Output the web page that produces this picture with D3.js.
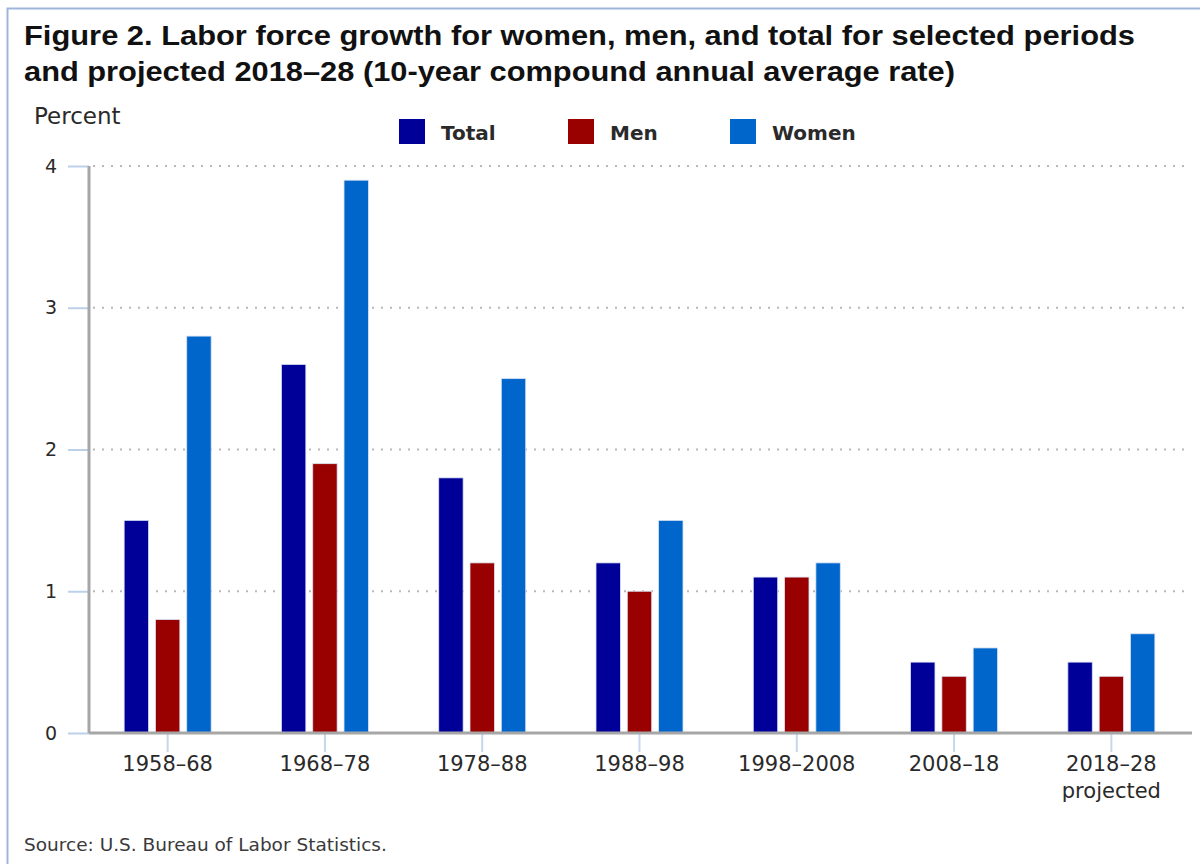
<!DOCTYPE html>
<html>
<head>
<meta charset="utf-8">
<script src="https://cdn.jsdelivr.net/npm/d3@7"></script>
<style>
  html, body { margin: 0; padding: 0; background: #fff; }
  svg { display: block; }
</style>
</head>
<body>
<svg id="chart" width="1200" height="864"></svg>
<script>
// Labor force growth, 10-year compound annual average rate (percent)
const periods = ["1958–68", "1968–78", "1978–88", "1988–98", "1998–2008", "2008–18", "2018–28"];
const periodNotes = ["", "", "", "", "", "", "projected"];
const seriesNames = ["Total", "Men", "Women"];
const seriesColors = ["#000099", "#990000", "#0066cc"];
const totalValues = [1.5, 2.6, 1.8, 1.2, 1.1, 0.5, 0.5];
const menValues = [0.8, 1.9, 1.2, 1.0, 1.1, 0.4, 0.4];
const womenValues = [2.8, 3.9, 2.5, 1.5, 1.2, 0.6, 0.7];
const yTicks = [0, 1, 2, 3, 4];

const seriesValues = [totalValues, menValues, womenValues];
const rows = periods.map((p, i) => ({
  period: p,
  values: seriesNames.map((s, j) => ({ series: s, value: seriesValues[j][i], color: seriesColors[j] }))
}));

const svg = d3.select("#chart");

// frame
svg.append("path")
  .attr("d", "M7.5,870 L7.5,8.5 L1210,8.5")
  .attr("fill", "none")
  .attr("stroke", "#9fb5dc")
  .attr("stroke-width", 2);

// title (two lines, widened to the frame)
const titleLines = [
  { text: "Figure 2. Labor force growth for women, men, and total for selected periods", y: 45, width: 1111 },
  { text: "and projected 2018–28 (10-year compound annual average rate)", y: 81, width: 931 }
];
svg.append("g").selectAll("text")
  .data(titleLines)
  .join("text")
  .attr("x", 24)
  .attr("y", d => d.y)
  .attr("font-family", "Liberation Sans, Arial, sans-serif")
  .attr("font-weight", "bold")
  .attr("font-size", 27)
  .attr("fill", "#111")
  .attr("textLength", d => d.width)
  .attr("lengthAdjust", "spacingAndGlyphs")
  .text(d => d.text);

const plot = { left: 89, right: 1190, top: 166, bottom: 733 };

const x0 = d3.scaleBand().domain(periods).range([plot.left, plot.right]).paddingInner(0).paddingOuter(0);
const x1 = d3.scaleBand().domain(seriesNames).range([-43.5, 43.5]).paddingInner(0.22);
const y = d3.scaleLinear().domain([0, 4]).range([plot.bottom, plot.top]);

const axisFont = "DejaVu Sans, Verdana, sans-serif";
const textColor = "#2a2a2a";

// dotted gridlines
svg.append("g").selectAll("line")
  .data(yTicks.filter(t => t > 0))
  .join("line")
  .attr("x1", plot.left + 4).attr("x2", 1184)
  .attr("y1", d => y(d)).attr("y2", d => y(d))
  .attr("stroke", "#b8b8b8")
  .attr("stroke-width", 2)
  .attr("stroke-dasharray", "2,7");

// y axis
const yAxis = svg.append("g")
  .attr("transform", `translate(${plot.left},0)`)
  .call(d3.axisLeft(y).tickValues(yTicks).tickFormat(d3.format("d")).tickSize(21).tickPadding(11));
yAxis.select(".domain").remove();
yAxis.selectAll(".tick line").attr("stroke", "#bcd0ea").attr("stroke-width", 2);
yAxis.selectAll(".tick text")
  .attr("font-family", axisFont).attr("font-size", 19).attr("fill", textColor);

svg.append("line")
  .attr("x1", plot.left).attr("x2", plot.left)
  .attr("y1", plot.top).attr("y2", plot.bottom)
  .attr("stroke", "#a6a6a6").attr("stroke-width", 3);

// bars
const groups = svg.append("g").selectAll("g")
  .data(rows)
  .join("g")
  .attr("transform", d => `translate(${x0(d.period) + x0.bandwidth() / 2},0)`);

groups.selectAll("rect")
  .data(d => d.values)
  .join("rect")
  .attr("x", d => x1(d.series))
  .attr("width", x1.bandwidth())
  .attr("y", d => y(d.value))
  .attr("height", d => y(0) - y(d.value))
  .attr("fill", d => d.color)
  .attr("stroke", "#d9e2f2")
  .attr("stroke-width", 0.8);

// x axis
const xAxis = svg.append("g")
  .attr("transform", `translate(0,${plot.bottom})`)
  .call(d3.axisBottom(x0).tickSize(19).tickPadding(4));
xAxis.select(".domain").remove();
xAxis.selectAll(".tick line").attr("stroke", "#c6d6ec").attr("stroke-width", 2);
xAxis.selectAll(".tick text")
  .attr("font-family", axisFont).attr("font-size", 21).attr("fill", textColor);
xAxis.selectAll(".tick").each(function (d, i) {
  if (periodNotes[i]) {
    d3.select(this).append("text")
      .attr("y", 65)
      .attr("fill", textColor)
      .attr("text-anchor", "middle")
      .attr("font-family", axisFont).attr("font-size", 21)
      .text(periodNotes[i]);
  }
});

svg.append("line")
  .attr("x1", plot.left).attr("x2", plot.right + 2)
  .attr("y1", plot.bottom).attr("y2", plot.bottom)
  .attr("stroke", "#a6a6a6").attr("stroke-width", 3);

// y axis label
svg.append("text")
  .attr("x", 34).attr("y", 124)
  .attr("font-family", axisFont).attr("font-size", 23).attr("fill", textColor)
  .text("Percent");

// legend
const legendX = [399, 568, 730];
const legend = svg.append("g").selectAll("g")
  .data(seriesNames)
  .join("g")
  .attr("transform", (d, i) => `translate(${legendX[i]},119)`);
legend.append("rect")
  .attr("width", 26).attr("height", 25)
  .attr("fill", (d, i) => seriesColors[i]);
legend.append("text")
  .attr("x", 42).attr("y", 21)
  .attr("font-family", axisFont).attr("font-weight", "bold")
  .attr("font-size", 20).attr("fill", textColor)
  .text(d => d);

// source note
svg.append("text")
  .attr("x", 24).attr("y", 851)
  .attr("font-family", axisFont).attr("font-size", 18.5).attr("fill", "#3a3a3a")
  .text("Source: U.S. Bureau of Labor Statistics.");
</script>
</body>
</html>
